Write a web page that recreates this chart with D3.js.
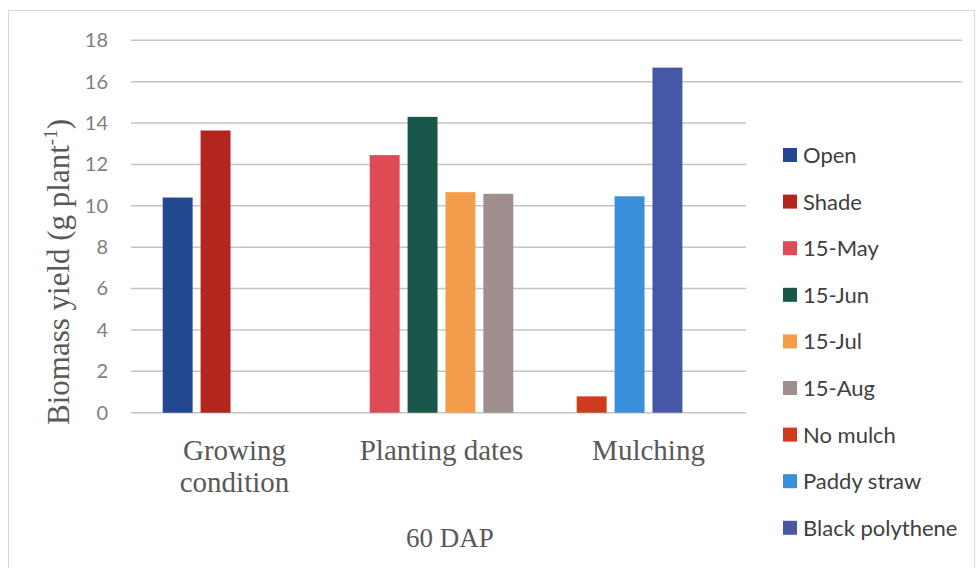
<!DOCTYPE html>
<html>
<head>
<meta charset="utf-8">
<script src="https://cdn.jsdelivr.net/npm/d3@7"></script>
<style>
  html, body { margin: 0; padding: 0; background: #fff; }
  svg { display: block; }
</style>
</head>
<body>
<svg id="chart" width="979" height="568"></svg>
<script>
// Biomass yield at 60 DAP by treatment group
const categories = ["Growing condition", "Planting dates", "Mulching"];
const categoryLines = [["Growing", "condition"], ["Planting dates"], ["Mulching"]];
const seriesNames = ["Open", "Shade", "15-May", "15-Jun", "15-Jul", "15-Aug", "No mulch", "Paddy straw", "Black polythene"];
const seriesValues = [10.4, 13.64, 12.45, 14.3, 10.66, 10.58, 0.79, 10.46, 16.68];
const seriesCategory = [0, 0, 1, 1, 1, 1, 2, 2, 2];
const seriesColors = ["#22498f", "#b3261e", "#df4b55", "#1a574b", "#f39c4a", "#a08e8f", "#d13b1d", "#3a8fdb", "#4657a6"];
const yTicks = [0, 2, 4, 6, 8, 10, 12, 14, 16, 18];
const slotsPerCategory = 4;

const svg = d3.select("#chart");

// outer frame
svg.append("rect")
  .attr("x", 8.5).attr("y", 10.5).attr("width", 966).attr("height", 570)
  .attr("fill", "none").attr("stroke", "#d9d9d9").attr("stroke-width", 1);

const plotLeft = 131, plotTop = 40.3, plotBottom = 412.7, gridRight = 962;
const catWidth = 207;

const y = d3.scaleLinear().domain([0, 18]).range([plotBottom, plotTop]);
const x0 = d3.scaleBand().domain(d3.range(categories.length))
  .range([plotLeft, plotLeft + catWidth * categories.length]).padding(0);
const x1 = d3.scaleBand().domain(d3.range(slotsPerCategory))
  .range([31.7, catWidth - 31.7]).paddingInner(0.21).paddingOuter(0);

// gridlines
svg.append("g").selectAll("line").data(yTicks).join("line")
  .attr("x1", plotLeft).attr("x2", gridRight)
  .attr("y1", d => y(d)).attr("y2", d => y(d))
  .attr("stroke", "#c4c4c4").attr("stroke-width", 1.4);

// y axis tick labels
const yAxis = d3.axisLeft(y).tickValues(yTicks).tickSize(0).tickPadding(0);
const gy = svg.append("g").attr("transform", "translate(108,0)").call(yAxis);
gy.select(".domain").remove();
gy.selectAll("text")
  .attr("font-family", "Lato, 'Open Sans', sans-serif")
  .attr("font-size", 20).attr("fill", "#808080");

// bars: slot index within each category
const slotIndex = seriesCategory.map((c, i) => seriesCategory.slice(0, i).filter(v => v === c).length);
svg.append("g").selectAll("rect").data(seriesValues).join("rect")
  .attr("x", (d, i) => x0(seriesCategory[i]) + x1(slotIndex[i]))
  .attr("y", d => y(d))
  .attr("width", x1.bandwidth())
  .attr("height", d => y(0) - y(d))
  .attr("fill", (d, i) => seriesColors[i]);

// category labels
const catG = svg.append("g")
  .attr("font-family", "'Liberation Serif', 'Times New Roman', serif")
  .attr("font-size", 29).attr("fill", "#595959").attr("text-anchor", "middle");
categoryLines.forEach((lines, i) => {
  const t = catG.append("text").attr("x", x0(i) + x1(0) + (x1(slotsPerCategory - 1) + x1.bandwidth() - x1(0)) / 2).attr("y", 460);
  lines.forEach((ln, j) => t.append("tspan").attr("x", t.attr("x")).attr("dy", j === 0 ? 0 : 32).text(ln));
});

// x axis title
svg.append("text")
  .attr("x", 450).attr("y", 547)
  .attr("font-family", "'Liberation Serif', 'Times New Roman', serif")
  .attr("font-size", 27).attr("fill", "#595959").attr("text-anchor", "middle")
  .text("60 DAP");

// y axis title
const yt = svg.append("text")
  .attr("transform", "translate(69,272) rotate(-90)")
  .attr("font-family", "'Liberation Serif', 'Times New Roman', serif")
  .attr("font-size", 31).attr("fill", "#595959").attr("text-anchor", "middle");
yt.append("tspan").text("Biomass yield (g plant");
yt.append("tspan").attr("font-size", 19).attr("dy", -12).text("-1");
yt.append("tspan").attr("dy", 12).text(")");

// legend
const legend = svg.append("g");
legend.append("rect").attr("x", 746).attr("y", 100).attr("width", 216).attr("height", 455).attr("fill", "#fff");
const items = legend.selectAll("g.item").data(seriesNames).join("g")
  .attr("class", "item")
  .attr("transform", (d, i) => `translate(783,${155 + 46.6 * i})`);
items.append("rect").attr("x", 0).attr("y", -7).attr("width", 14).attr("height", 14)
  .attr("fill", (d, i) => seriesColors[i]);
items.append("text").attr("x", 20).attr("y", 8)
  .attr("font-family", "Lato, 'Open Sans', sans-serif")
  .attr("font-size", 22).attr("fill", "#404040")
  .text(d => d);
</script>
</body>
</html>
